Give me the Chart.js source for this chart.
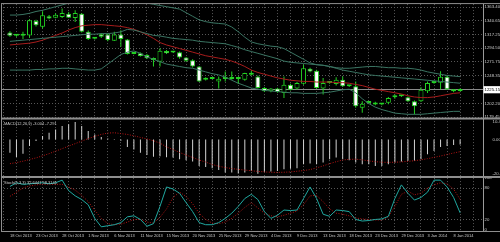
<!DOCTYPE html>
<html>
<head>
<meta charset="utf-8">
<script src="https://cdn.jsdelivr.net/npm/chart.js@4.4.1/dist/chart.umd.min.js"></script>
<style>
  html, body { margin: 0; padding: 0; background: #000; }
  #wrap { width: 500px; height: 242px; }
</style>
</head>
<body>
<div id="wrap"><canvas id="chart" width="500" height="242"></canvas></div>
<script>
// date labels, one every 4 bars
const dateLabels = ['18 Oct 2013', '23 Oct 2013', '28 Oct 2013', '1 Nov 2013', '6 Nov 2013', '11 Nov 2013',
  '15 Nov 2013', '20 Nov 2013', '25 Nov 2013', '29 Nov 2013', '4 Dec 2013', '9 Dec 2013', '13 Dec 2013',
  '18 Dec 2013', '23 Dec 2013', '29 Dec 2013', '3 Jan 2014', '8 Jan 2014'];

// daily candles
const opens = [1320.9, 1315.4, 1315.2, 1316.0, 1340.2, 1330.3, 1347.9, 1345.5, 1346.8, 1352.4,
  1345.2, 1352.4, 1322.0, 1310.5, 1318.0, 1317.6, 1307.1, 1317.6, 1309.3, 1285.5,
  1286.1, 1283.3, 1277.8, 1272.0, 1289.9, 1287.2, 1287.7, 1278.9, 1274.5, 1264.0,
  1244.6, 1243.5, 1239.1, 1243.5, 1244.6, 1243.5, 1241.9, 1253.5, 1247.4, 1228.1,
  1222.6, 1227.0, 1219.8, 1233.6, 1227.0, 1235.3, 1260.1, 1256.8, 1227.0, 1236.4,
  1234.7, 1241.9, 1231.0, 1230.8, 1195.0, 1203.0, 1203.2, 1200.5, 1203.2, 1212.6,
  1214.3, 1212.6, 1206.0, 1206.0, 1222.6, 1236.4, 1237.0, 1247.0, 1225.3, 1223.0];
const highs = [1323.1, 1316.5, 1322.0, 1343.0, 1342.0, 1356.2, 1350.0, 1353.0, 1361.0, 1355.0,
  1357.9, 1353.5, 1324.0, 1312.0, 1320.0, 1319.0, 1322.0, 1324.7, 1310.0, 1286.5,
  1287.5, 1285.0, 1279.0, 1294.4, 1291.5, 1288.0, 1289.0, 1280.0, 1276.0, 1265.0,
  1246.0, 1244.5, 1247.4, 1255.7, 1255.7, 1244.0, 1253.5, 1257.0, 1249.0, 1229.5,
  1228.0, 1228.5, 1247.4, 1235.0, 1238.0, 1266.7, 1262.0, 1258.5, 1244.6, 1238.0,
  1246.0, 1247.4, 1232.5, 1239.1, 1206.0, 1204.5, 1205.0, 1202.0, 1213.0, 1217.0,
  1215.5, 1214.0, 1207.0, 1229.2, 1239.1, 1237.5, 1256.0, 1249.0, 1226.5, 1227.0];
const lows = [1313.7, 1313.7, 1309.8, 1312.0, 1331.0, 1327.5, 1343.0, 1344.5, 1345.2, 1345.0,
  1338.6, 1320.9, 1308.2, 1309.0, 1311.5, 1306.0, 1306.5, 1297.1, 1284.0, 1284.5,
  1280.5, 1276.5, 1264.0, 1264.0, 1285.0, 1286.5, 1277.0, 1272.0, 1262.5, 1238.0,
  1240.5, 1242.5, 1227.0, 1239.1, 1241.9, 1234.7, 1240.0, 1249.0, 1227.0, 1221.5,
  1221.0, 1220.0, 1211.5, 1224.0, 1225.5, 1233.6, 1254.5, 1227.0, 1217.0, 1235.0,
  1232.0, 1229.5, 1229.5, 1194.9, 1186.6, 1201.5, 1199.0, 1199.0, 1201.0, 1210.0,
  1213.0, 1204.5, 1183.9, 1204.5, 1219.8, 1235.0, 1226.0, 1224.5, 1221.0, 1222.0];
const closes = [1315.4, 1315.2, 1316.0, 1341.3, 1333.0, 1349.6, 1344.1, 1350.5, 1353.5, 1345.7,
  1353.5, 1322.0, 1309.8, 1311.0, 1313.7, 1308.2, 1317.6, 1309.8, 1285.0, 1285.0,
  1281.7, 1277.8, 1275.0, 1290.5, 1286.1, 1287.5, 1278.9, 1273.4, 1264.0, 1239.1,
  1241.9, 1243.0, 1243.5, 1243.0, 1243.0, 1243.2, 1252.9, 1250.2, 1228.1, 1222.6,
  1227.0, 1221.4, 1233.6, 1225.3, 1236.4, 1261.2, 1255.7, 1228.1, 1236.4, 1236.6,
  1241.9, 1230.8, 1230.8, 1197.7, 1201.5, 1203.2, 1200.5, 1200.8, 1211.5, 1215.4,
  1214.5, 1206.0, 1197.7, 1225.3, 1236.4, 1236.6, 1247.0, 1226.0, 1222.6, 1225.15];

// bands and moving average on the price window
const bbUpper = [1350, 1350, 1351, 1353, 1356, 1358, 1361, 1364, 1367, 1370,
  1372, 1374, 1375, 1376, 1376, 1376, 1375, 1374, 1373, 1372,
  1371, 1370, 1368, 1366, 1364, 1362, 1360, 1354, 1348, 1342,
  1339, 1337, 1336, 1335, 1330, 1322, 1313, 1305, 1302, 1300,
  1298, 1297, 1294, 1288, 1282, 1276, 1270, 1267, 1266, 1264,
  1262, 1261, 1261, 1262, 1263, 1264, 1264, 1263, 1262, 1262,
  1261, 1261, 1260, 1258, 1255, 1253, 1251, 1249, 1248, 1247];
const bbMiddle = [1306, 1307, 1308, 1309, 1310, 1311, 1312, 1313, 1314, 1315,
  1316, 1317, 1318, 1318, 1319, 1319, 1320, 1322, 1326, 1325,
  1322, 1319, 1316, 1315, 1313, 1311, 1310, 1309, 1308, 1306,
  1305, 1304, 1303, 1302, 1299, 1296, 1292, 1289, 1286, 1283,
  1280, 1277, 1273, 1271, 1270, 1269, 1268, 1267, 1266, 1264,
  1261, 1258, 1256, 1254, 1252, 1250, 1249, 1248, 1247, 1246,
  1245, 1244, 1243, 1242, 1241, 1240, 1239, 1238, 1237, 1236];
const bbLower = [1258, 1258, 1258, 1258, 1259, 1259, 1260, 1260, 1261, 1261,
  1260, 1259, 1258, 1258, 1260, 1268, 1276, 1284, 1288, 1290,
  1286, 1280, 1276, 1272, 1268, 1266, 1264, 1262, 1261, 1258,
  1255, 1252, 1250, 1246, 1241, 1236, 1232, 1228, 1226, 1224,
  1223, 1222, 1221, 1220, 1220, 1219, 1219, 1219, 1220, 1221,
  1223, 1225, 1226, 1220, 1210, 1202, 1196, 1192, 1189, 1186,
  1185, 1184, 1184, 1184, 1185, 1186, 1187, 1188, 1189, 1189];
const maRed = [1300, 1301, 1302, 1303, 1305, 1308, 1312, 1316, 1320, 1325,
  1329, 1332, 1333, 1334, 1334, 1333, 1332, 1331, 1329, 1326,
  1322, 1317, 1311, 1304, 1300, 1297, 1294, 1291, 1288, 1285,
  1282, 1280, 1278, 1276, 1273, 1269, 1264, 1258, 1254, 1251,
  1248, 1245, 1243, 1241, 1240, 1239, 1239, 1238, 1238, 1238,
  1237, 1237, 1236, 1234, 1232, 1229, 1226, 1224, 1222, 1220,
  1218, 1215, 1213, 1212, 1212, 1213, 1215, 1217, 1219, 1220];

// MACD(12,26,9)
const macdHist = [-7.9, -10.5, -8.6, -3.9, -1, 2, 4, 6, 8, 9,
  10.421, 8, 5, 3, 1.4, 0.5, 0.2, -0.8, -4.5, -6,
  -8, -9.3, -10.4, -10, -10.6, -10.8, -11.8, -12.4, -13.2, -15.8,
  -16.4, -17.2, -18.3, -19.7, -19.7, -20.3, -19.8, -18.8, -20.546, -19.4,
  -19.2, -18.8, -17.8, -17.5, -17.2, -14.8, -14.4, -14.8, -13.8, -11.8,
  -10.8, -11.8, -12.4, -13.8, -14.8, -14.8, -15.8, -15.8, -14.8, -13.8,
  -13.2, -12.8, -12.8, -11.8, -8.8, -6.9, -4.5, -3.9, -3.3, -3.004];
const macdSignal = [-14.5, -13.8, -13, -12, -11, -9.8, -8.5, -7, -5.5, -4,
  -2.5, -1, 0.5, 1.8, 3, 3.8, 4, 3.5, 3, 2.2,
  1.2, 0.3, -0.8, -2.2, -4.5, -6, -7.8, -9.3, -10.8, -12.3,
  -13.5, -15, -16, -16.8, -17.4, -17.9, -18.3, -18.7, -19.1, -19.4,
  -19.6, -19.7, -19.6, -19.4, -19, -18.6, -18, -17, -15.8, -14.5,
  -13.3, -12.3, -11.9, -11.8, -12.2, -12.8, -13.3, -13.6, -13.7, -13.6,
  -13.4, -13.1, -12.7, -12.2, -11.5, -10.7, -9.9, -9, -8.1, -7.291];

// Stochastic(5,3,3)
const stochMain = [83, 90, 87, 88, 89, 90, 88, 90, 95, 75,
  65, 58, 48, 22, 6, 8, 10, 14, 25, 27,
  20, 7, 12, 45, 82, 78, 70, 52, 35, 14,
  10, 10, 14, 22, 32, 45, 60, 68, 58, 35,
  22, 28, 38, 37, 38, 60, 82, 60, 30, 26,
  38, 37, 35, 20, 17, 18, 20, 21, 26, 60,
  86, 70, 57, 62, 72, 95, 95, 82, 62, 32.6447];
const stochSignal = [64, 72, 80, 84, 86, 87, 87, 87, 87, 82,
  76, 66, 54, 38, 22, 12, 10, 11, 15, 20,
  20, 15, 13, 24, 40, 62, 72, 64, 50, 32,
  20, 13, 12, 15, 22, 32, 43, 52, 42, 32,
  27, 25, 28, 32, 36, 48, 65, 66, 54, 40,
  32, 30, 27, 23, 21, 20, 19, 19, 25, 45,
  68, 74, 67, 70, 80, 86, 90, 88, 78, 58.3141];

// axis ticks
const priceTicks = [1363.40, 1340.65, 1317.25, 1294.50, 1271.75, 1248.35, 1202.20, 1179.45];
const macdTicks = [10.421, 0, -20.546];
const macdTickLabels = ['10.421', '0.00', '-20.546'];
const stochTicks = [100, 80, 20, 0];

const bid = closes[closes.length - 1];
const candleGreen = '#22d022';
const gridGray = '#575757';
const textGray = '#c8c8c8';
const fontFamily = '"Liberation Sans", Arial, sans-serif';

const pts = arr => arr.map((v, i) => ({x: i, y: v}));
const lineDs = (label, arr, axis, color, dash) => ({
  type: 'line', label, data: pts(arr), yAxisID: axis,
  borderColor: color, borderWidth: 1, borderDash: dash || [],
  pointRadius: 0, tension: 0, order: 1
});

const macdCaption = `MACD(12,26,9) ${macdHist[macdHist.length - 1]} ${macdSignal[macdSignal.length - 1]}`;
const stochCaption = `Stoch(5,3,3) ${stochMain[stochMain.length - 1]} ${stochSignal[stochSignal.length - 1]}`;

// window frames and indicator captions
const panelFrame = {
  id: 'panelFrame',
  afterDraw(chart) {
    const {ctx, chartArea: a, scales} = chart;
    ctx.save();
    ctx.fillStyle = '#8e8e8e';
    ctx.fillRect(a.left, a.top - 1, 500 - a.left, 1);
    ctx.fillRect(a.left, a.top, 1, a.bottom - a.top);
    [scales.y, scales.yMacd].forEach(s => ctx.fillRect(a.left, s.bottom - 1, 500 - a.left, 2));
    ctx.fillRect(a.left, a.bottom, 500 - a.left, 1);
    ctx.fillStyle = textGray;
    ctx.font = '4px ' + fontFamily;
    ctx.textBaseline = 'middle';
    ctx.fillText(macdCaption, a.left + 3, scales.yMacd.top + 5.5);
    ctx.fillText(stochCaption, a.left + 3, scales.yStoch.top + 5.5);
    ctx.restore();
  }
};

const axisTicks = extra => Object.assign({
  autoSkip: false, padding: 1.5, color: textGray, font: { size: 4.3, family: fontFamily }
}, extra);

new Chart(document.getElementById('chart'), {
  type: 'bar',
  data: {
    datasets: [
      lineDs('BB upper', bbUpper, 'y', '#3a7462'),
      lineDs('BB middle', bbMiddle, 'y', '#3a7462'),
      lineDs('BB lower', bbLower, 'y', '#3a7462'),
      lineDs('MA', maRed, 'y', '#a81c1c'),
      {
        label: 'wicks', yAxisID: 'y', order: 3,
        data: closes.map((c, i) => ({x: i, y: [lows[i], highs[i]]})),
        backgroundColor: candleGreen, barThickness: 1, grouped: false, inflateAmount: 0
      },
      {
        label: 'bodies', yAxisID: 'y', order: 2,
        data: closes.map((c, i) => ({x: i, y: [opens[i], c]})),
        backgroundColor: ctx => closes[ctx.dataIndex] >= opens[ctx.dataIndex] ? '#000' : '#fff',
        borderColor: candleGreen, borderWidth: 1, borderSkipped: false,
        barThickness: 5, minBarLength: 2, grouped: false, inflateAmount: 0
      },
      {
        label: 'MACD', yAxisID: 'yMacd', order: 2,
        data: pts(macdHist),
        backgroundColor: '#d2d2d2', barThickness: 1, grouped: false, inflateAmount: 0
      },
      lineDs('Signal', macdSignal, 'yMacd', '#b41414', [1, 1.5]),
      lineDs('%K', stochMain, 'yStoch', '#20a8a0'),
      lineDs('%D', stochSignal, 'yStoch', '#b41414', [1, 1.5])
    ]
  },
  options: {
    responsive: false,
    animation: false,
    devicePixelRatio: 1,
    layout: { padding: { left: 1, top: 2, right: 0, bottom: 0 } },
    plugins: { legend: { display: false }, tooltip: { enabled: false }, title: { display: false } },
    scales: {
      x: {
        type: 'linear', min: -0.343, max: 71.48,
        afterBuildTicks: s => {
          s.ticks = [];
          for (let v = 0; v <= 70; v += 2) s.ticks.push({value: v});
        },
        afterFit: s => { s.height = 11; },
        ticks: {
          autoSkip: false, maxRotation: 0, align: 'start', padding: 2, color: textGray,
          font: { size: 4, family: fontFamily },
          callback: v => (v % 4 === 0 ? dateLabels[v / 4] : '')
        },
        grid: { color: gridGray, drawTicks: false },
        border: { display: false, dash: [1, 2] }
      },
      y: {
        type: 'linear', position: 'right', stack: 'panes', stackWeight: 115.5,
        min: 1176.96, max: 1368.37,
        afterBuildTicks: s => { s.ticks = priceTicks.concat([bid]).map(v => ({value: v})); },
        afterFit: s => { s.width = 17; },
        ticks: axisTicks({
          color: ctx => (ctx.tick.value === bid ? '#000' : textGray),
          callback: v => v.toFixed(2),
          showLabelBackdrop: ctx => ctx.tick.value === bid,
          backdropColor: '#fff',
          backdropPadding: { x: 1, y: 1 }
        }),
        grid: {
          drawTicks: false,
          color: ctx => (ctx.tick && ctx.tick.value === bid ? '#8a8a8a' : gridGray)
        },
        border: {
          color: '#9a9a9a',
          dash: ctx => (ctx.tick && ctx.tick.value === bid ? [] : [1, 2])
        }
      },
      yMacd: {
        type: 'linear', position: 'right', stack: 'panes', stackWeight: 59,
        min: -22.44, max: 12.49,
        afterBuildTicks: s => { s.ticks = macdTicks.map(v => ({value: v})); },
        afterFit: s => { s.width = 17; },
        ticks: axisTicks({ callback: (v, i) => macdTickLabels[i] }),
        grid: { display: false },
        border: { color: '#9a9a9a' }
      },
      yStoch: {
        type: 'linear', position: 'right', stack: 'panes', stackWeight: 54.5,
        min: -2, max: 101,
        afterBuildTicks: s => { s.ticks = stochTicks.map(v => ({value: v})); },
        afterFit: s => { s.width = 17; },
        ticks: axisTicks({ callback: v => String(v) }),
        grid: {
          drawTicks: false,
          color: ctx => (ctx.tick && (ctx.tick.value === 80 || ctx.tick.value === 20) ? gridGray : 'rgba(0,0,0,0)')
        },
        border: { color: '#9a9a9a', dash: [1, 2] }
      }
    }
  },
  plugins: [panelFrame]
});
</script>
</body>
</html>
